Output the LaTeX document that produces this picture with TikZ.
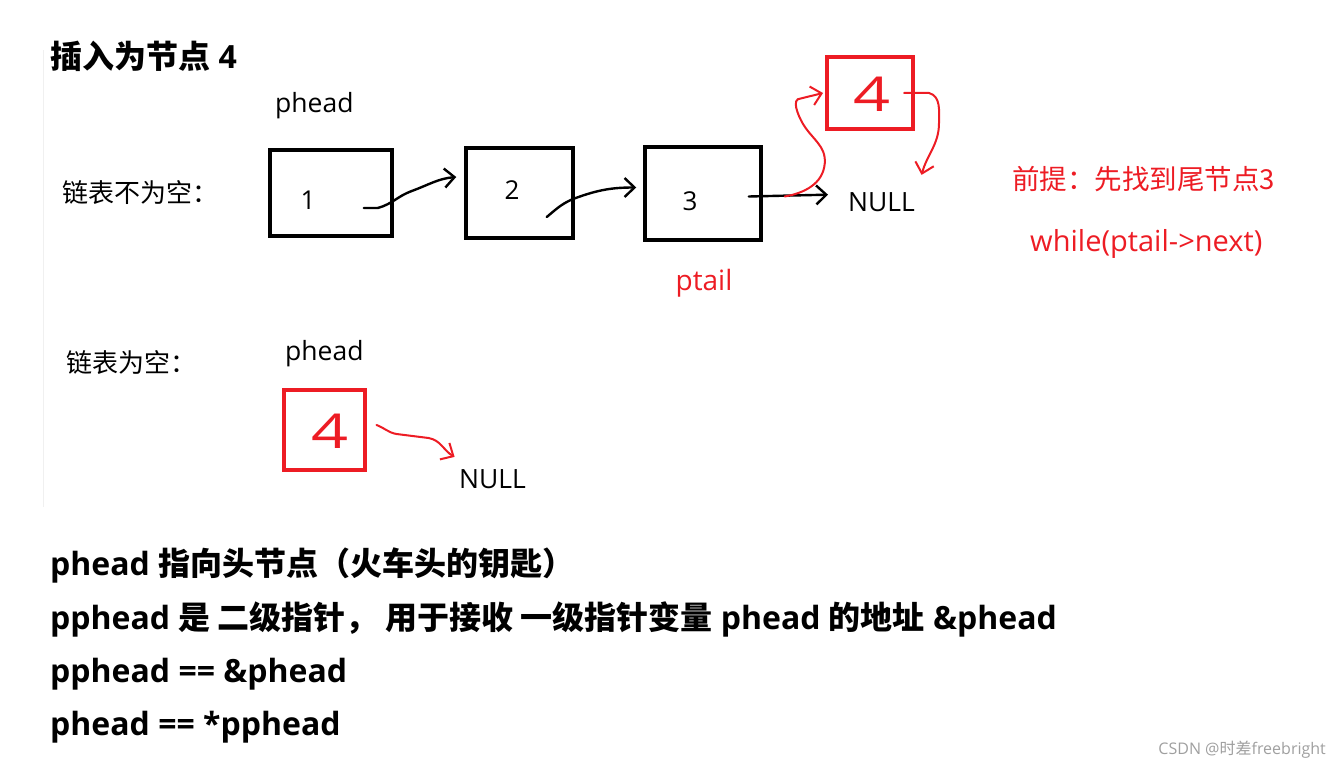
\documentclass[tikz,border=0pt]{standalone}
\usepackage{fontspec}
\setmainfont{Open Sans}
\newfontfamily\cjk{Noto Sans CJK SC}
\newfontfamily\handfont{Open Sans}[FakeStretch=1.35]
\usetikzlibrary{calc,arrows.meta}
\definecolor{paintred}{RGB}{237,28,36}
\newcommand{\fs}[1]{\fontsize{#1}{#1}\selectfont}

\begin{document}
\begin{tikzpicture}[x=1pt,y=1pt,>={Straight Barb[length=10pt,width=19pt]},
  txt/.style={inner sep=0pt,anchor=base west,font=\fs{26.5}},
  num/.style={inner sep=0pt,anchor=base,font=\fs{26}},
  bold/.style={inner sep=0pt,anchor=base west,font=\fs{32}\bfseries},
  note/.style={inner sep=0pt,anchor=base west,text=paintred,font=\fs{29}},
  listbox/.style={draw,line width=3.5pt,inner sep=0pt},
  newbox/.style={draw=paintred,line width=4pt,inner sep=0pt},
  newnum/.style={inner sep=0pt,text=paintred,font=\fs{48}\handfont},
  hand/.style={->,line width=2.4pt,line cap=round,line join=round},
  redhand/.style={hand,paintred,line width=2pt}]
  \useasboundingbox (0,0) rectangle (1342,-768);
  \draw[gray!12,line width=1pt] (43,-50)--(43,-507);
  \node[bold] (title) at (50,-69) {{\cjk 插入为节点} 4};
  % list not empty
  \begin{scope}
    \node[txt] (ph1) at (275,-113) {phead};
    \node[txt,font=\fs{26}\cjk] (lab1) at (62,-202) {链表不为空：};
    \node[listbox,minimum width=122pt,minimum height=86pt] (b1) at (331,-193) {};
    \node[listbox,minimum width=107pt,minimum height=90pt] (b2) at (519.5,-193) {};
    \node[listbox,minimum width=116pt,minimum height=93pt] (b3) at (703,-193.5) {};
    \node[num] (n1) at (308,-209) {1};
    \node[num] (n2) at (512,-199) {2};
    \node[num] (n3) at (690,-210) {3};
    \node[txt] (null1) at (848,-211) {NULL};
    \node[newbox,minimum width=86pt,minimum height=72pt] (b4) at (870,-93) {};
    \node[newnum] (n4) at (872,-94) {4};
    \node[num,text=paintred,font=\fs{28}] (ptail) at (704,-290) {ptail};
    \draw[hand] ($(b1.east)+(-30,-15)$) -- ++(14,0) to[out=15,in=200] ++(34,17)
      to[out=20,in=185] ($(b2.west)+(-8,16)$);
    \draw[hand] ($(b2.east)+(-28,-24)$) to[out=40,in=200] ++(29,19)
      to[out=20,in=180] ($(b3.west)+(-7,6)$);
    \draw[hand] ($(b3.east)+(-14,-3)$) -- ($(null1.west)+(-20,7)$);
    \draw[redhand] ($(b3.east)+(22,-3)$) to[out=10,in=-95] ++(40,33)
      to[out=85,in=-60] ++(-22,40) to[out=120,in=180] ++(-2,25) -- ($(b4.west)+(-2,0)$);
    \draw[redhand] ($(b4.east)+(-11,0)$) -- ++(25,0) to[out=-15,in=90] ++(10,-30)
      to[out=-90,in=75] ($(null1.north)+(40,17)$);
  \end{scope}
  % list empty
  \begin{scope}
    \node[txt,font=\fs{26}\cjk] (lab2) at (66,-372) {链表为空：};
    \node[txt] (ph2) at (285,-360) {phead};
    \node[newbox,minimum width=81pt,minimum height=80pt] (e4) at (324,-430) {};
    \node[newnum] (m4) at (330,-431) {4};
    \node[txt] (null2) at (459,-488) {NULL};
    \draw[redhand] ($(e4.east)+(10,5)$) to[out=-20,in=170] ++(20,-9) -- ++(32,-4)
      to[out=-10,in=150] ($(null2.north)+(-38,12)$);
  \end{scope}
  % notes
  \node[note,font=\fs{27.5}\cjk] (pre) at (1012,-189) {前提：先找到尾节点3};
  \node[note] (loop) at (1030,-251) {while(ptail->next)};
  \node[bold] (l1) at (50,-575) {phead {\cjk 指向头节点（火车头的钥匙）}};
  \node[bold] (l2) at (50,-629) {pphead {\cjk 是 二级指针， 用于接收 一级指针变量} phead {\cjk 的地址} \&phead};
  \node[bold] (l3) at (50,-682) {pphead == \&phead};
  \node[bold] (l4) at (50,-735) {phead == *pphead};
  \node[inner sep=0pt,anchor=base east,text=gray!75,font=\fs{16}] (mark) at (1326,-754)
    {CSDN @{\cjk 时差}freebright};
\end{tikzpicture}
\end{document}
